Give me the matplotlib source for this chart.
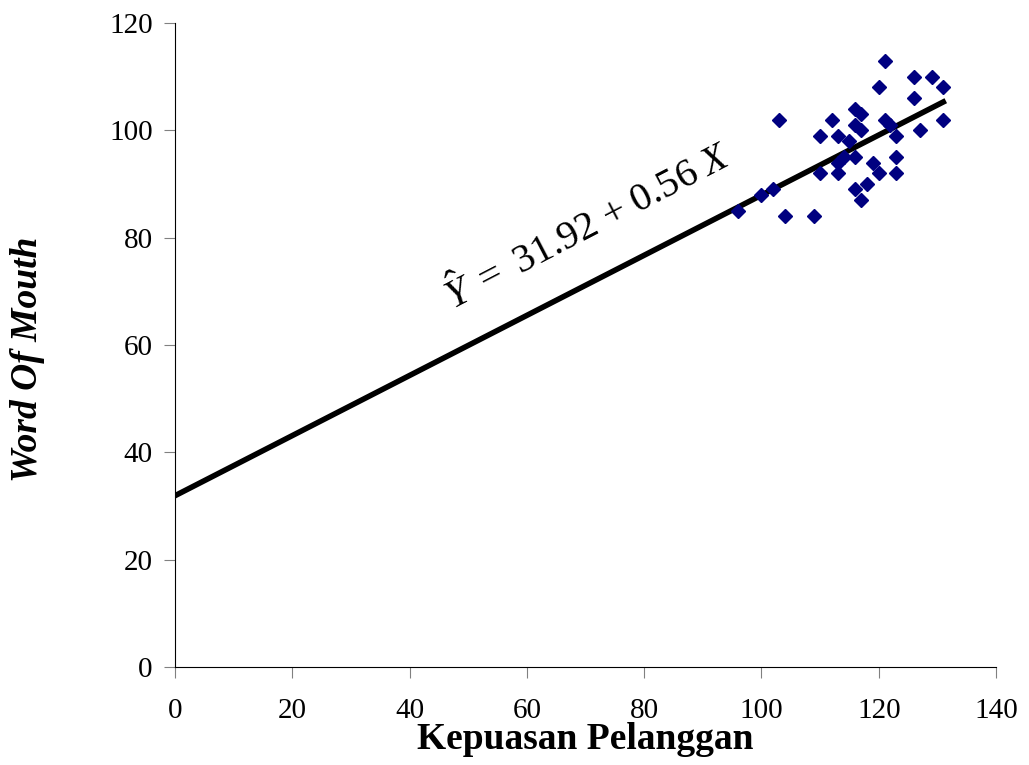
import numpy as np
import matplotlib.pyplot as plt

plt.rcParams.update({
    "font.family": "Liberation Serif",
    "mathtext.fontset": "custom",
    "mathtext.rm": "Liberation Serif",
    "mathtext.it": "Liberation Serif:italic",
})

# data
kepuasan = [96, 100, 102, 103, 104, 109, 110, 110, 112, 113, 113, 113, 114, 115,
            116, 116, 116, 116, 117, 117, 117, 118, 119, 120, 120, 121, 121, 122,
            123, 123, 123, 126, 126, 127, 129, 131, 131]
wom = [85, 88, 89, 102, 84, 84, 99, 92, 102, 99, 94, 92, 95, 98,
       104, 101, 95, 89, 103, 100, 87, 90, 94, 108, 92, 113, 102, 101,
       99, 95, 92, 110, 106, 100, 110, 108, 102]

intercept = 31.92
slope = 0.56
line_x = np.array([0, 131])

fig = plt.figure(figsize=(10.29, 7.65), dpi=100)
ax = fig.add_axes([0.170, 0.128, 0.798, 0.842])

ax.plot(kepuasan, wom, 'D', color='#000080', ms=7.5, mec='#000080', zorder=3)
ax.plot(line_x, intercept + slope * line_x, color='black', lw=4, zorder=2)

eq = r"$\hat{Y}\ \mathrm{=}\ \mathrm{31.92}\ \mathrm{+}\ \mathrm{0.56}\ X$"
ax.text(70.5, 82, eq, fontsize=29,
        rotation=27.5, rotation_mode='anchor', ha='center', va='center')

ax.set_xlim(0, 140)
ax.set_ylim(0, 120)
ax.set_xticks(range(0, 141, 20))
ax.set_yticks(range(0, 121, 20))
ax.spines['top'].set_visible(False)
ax.spines['right'].set_visible(False)
ax.tick_params(direction='out', length=8, color='#808080', labelsize=21, pad=14)
ax.tick_params(axis='y', pad=8)

ax.set_xlabel("Kepuasan Pelanggan", fontsize=27, fontweight='bold')
ax.xaxis.set_label_coords(0.5, -0.085)
ax.set_ylabel("Word Of Mouth", fontsize=27, fontweight='bold', style='italic')
ax.yaxis.set_label_coords(-0.158, 0.478)

fig.savefig("out.png", dpi=100)
